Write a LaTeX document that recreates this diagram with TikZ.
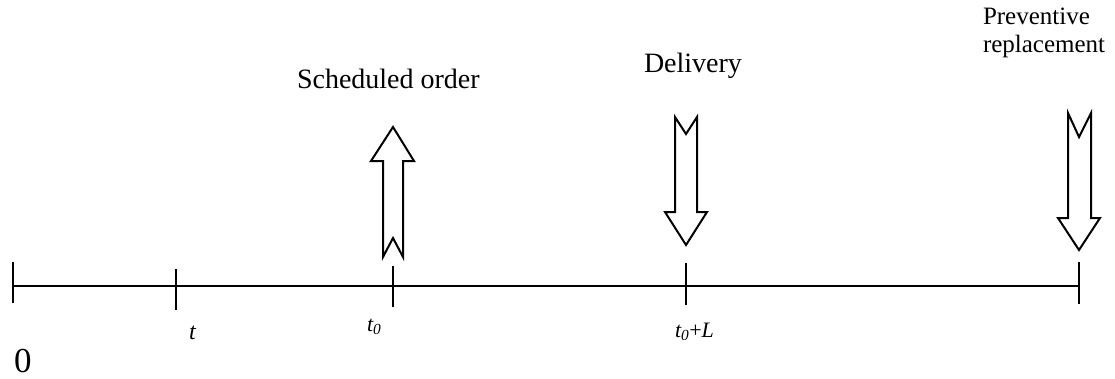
\documentclass[tikz,border=0pt]{standalone}
\usepackage{fontspec}
\setmainfont{Liberation Serif}
\begin{document}
\begin{tikzpicture}[x=1pt,y=-1pt,
  axisline/.style={line width=2pt},
  tickline/.style={line width=2pt},
  bigarrow/.style={line width=2pt,line join=miter,fill=white},
  lbl/.style={anchor=base west,inner sep=0pt,outer sep=0pt},
  fs/.style={font=\fontsize{#1}{#1}\selectfont}]
\useasboundingbox (0,0) rectangle (1115,378);
% axis and ticks
\coordinate (a0) at (13,286);
\coordinate (aend) at (1079,286);
\draw[axisline] (a0) -- (aend);
\draw[tickline] (13,262) coordinate (k0a) -- (13,303) coordinate (k0b);
\draw[tickline] (176,269) coordinate (kta) -- (176,310) coordinate (ktb);
\draw[tickline] (393,266) coordinate (k1a) -- (393,307) coordinate (k1b);
\draw[tickline] (686,263) coordinate (k2a) -- (686,305) coordinate (k2b);
\draw[tickline] (1079,262) coordinate (k3a) -- (1079,304) coordinate (k3b);
% scheduled order arrow (up)
\draw[bigarrow] (393,127) -- (414,161) -- (403,161) -- (403,257) -- (393,238)
  -- (383,257) -- (383,161) -- (371,161) -- cycle;
% delivery arrow (down)
\draw[bigarrow] (686,245) -- (707,212) -- (697,212) -- (697,117) -- (686,134)
  -- (675,117) -- (675,212) -- (665,212) -- cycle;
% preventive replacement arrow (down)
\draw[bigarrow] (1079,250) -- (1100,218) -- (1091,218) -- (1091,113) -- (1079,137)
  -- (1068,113) -- (1068,218) -- (1058,218) -- cycle;
% labels
\node[lbl,fs=28] (sched) at (297,88) {Scheduled order};
\node[lbl,fs=28] (deliv) at (644,72) {Delivery};
\node[lbl,fs=25] (prev1) at (983,24) {Preventive};
\node[lbl,fs=25] (prev2) at (983,52) {replacement};
\node[lbl,fs=24] (lt) at (189,339) {\textit{t}};
\node[lbl,fs=22] (lt0) at (367,331) {\textit{t\textsubscript{0}}};
\node[lbl,fs=22] (lt0L) at (675,337) {\textit{t\textsubscript{0}}+\textit{L}};
\node[lbl,fs=35] (lzero) at (14,372) {0};
\end{tikzpicture}
\end{document}
